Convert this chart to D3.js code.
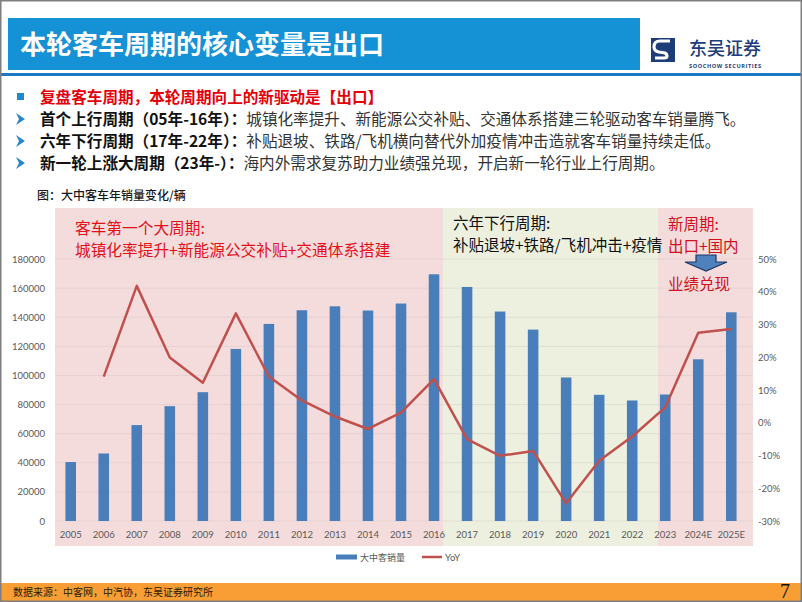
<!DOCTYPE html>
<html><head><meta charset="utf-8">
<script src="https://cdn.jsdelivr.net/npm/d3@7/dist/d3.min.js"></script>
<style>body{margin:0;background:#fff;} svg{display:block;}</style>
</head><body>
<svg id="c" width="802" height="602"></svg>
<script>
// ---------- data ----------
const years = ["2005","2006","2007","2008","2009","2010","2011","2012","2013","2014","2015","2016","2017","2018","2019","2020","2021","2022","2023","2024E","2025E"];
const sales = [40500,46400,65900,78900,88500,118200,135400,144800,147500,144600,149400,169500,160800,143900,131500,98600,86700,82800,86900,111100,143400];
const yoy = [null,14.1,41.8,19.9,12.2,33.4,14.1,6.8,1.9,-1.9,3.1,13.3,-5.0,-10.1,-8.6,-24.6,-11.6,-4.2,4.7,27.5,28.6];
const leftTicks = [0,20000,40000,60000,80000,100000,120000,140000,160000,180000];
const rightTicks = [-30,-20,-10,0,10,20,30,40,50];
const seriesNames = ["大中客销量","YoY"];

const CJK = "'Noto Sans CJK SC','Noto Sans',sans-serif";
const NUM = "Lato,'Open Sans',sans-serif";
const svg = d3.select("#c");

// ---------- slide chrome ----------
svg.append("rect").attr("x",0).attr("y",0).attr("width",802).attr("height",602).attr("fill","#fff");
svg.append("rect").attr("x",8).attr("y",18).attr("width",632).attr("height",52).attr("fill","#1591d6");
svg.append("text").attr("x",20).attr("y",54).attr("fill","#fff").attr("font-family",CJK)
  .attr("font-weight",700).attr("font-size",26).text("本轮客车周期的核心变量是出口");
svg.append("rect").attr("x",0).attr("y",73).attr("width",802).attr("height",3).attr("fill","#1c78c4");

// logo
const logo = svg.append("g");
logo.append("rect").attr("x",651).attr("y",38).attr("width",24).attr("height",24).attr("fill","#1d3c78");
logo.append("path").attr("d","M670,41 L660,41 Q654,41 654,47 Q654,51 659,52 L665,53 Q667,54 667,56 Q667,58 664,58 L655,58")
  .attr("fill","none").attr("stroke","#fff").attr("stroke-width",3.2);
logo.append("text").attr("x",689).attr("y",55).attr("fill","#1d3c78").attr("font-family",CJK)
  .attr("font-size",18).attr("font-weight",500).text("东吴证券");
logo.append("text").attr("x",689).attr("y",68).attr("fill","#1d3c78").attr("font-family","'Open Sans',sans-serif")
  .attr("font-size",5.6).attr("font-weight",700).attr("textLength",72).text("SOOCHOW SECURITIES");

// bullets
svg.append("rect").attr("x",17).attr("y",93).attr("width",7).attr("height",7).attr("fill","#1a8ad4");
svg.append("text").attr("x",40).attr("y",103).attr("fill","#e3000b").attr("font-family",CJK)
  .attr("font-size",15.6).attr("font-weight",700).text("复盘客车周期，本轮周期向上的新驱动是【出口】");
const rows = [
  ["首个上行周期（05年-16年）：","城镇化率提升、新能源公交补贴、交通体系搭建三轮驱动客车销量腾飞。",119],
  ["六年下行周期（17年-22年）：","补贴退坡、铁路/飞机横向替代外加疫情冲击造就客车销量持续走低。",141],
  ["新一轮上涨大周期（23年-）：","海内外需求复苏助力业绩强兑现，开启新一轮行业上行周期。",163]
];
rows.forEach(r=>{
  const cy=r[2];
  svg.append("path").attr("d",`M16,${cy-6} L25,${cy} L16,${cy+6} L19,${cy} Z`).attr("fill","#2a86c8");
  const t = svg.append("text").attr("x",40).attr("y",cy+5.5).attr("font-family",CJK).attr("font-size",15.6);
  t.append("tspan").attr("font-weight",700).attr("fill","#111").text(r[0]);
  t.append("tspan").attr("fill","#333").text(r[1]);
});

// chart title
svg.append("text").attr("x",37).attr("y",200).attr("fill","#1a1a1a").attr("font-family",CJK)
  .attr("font-size",12).attr("font-weight",500).text("图：大中客车年销量变化/辆");

// ---------- scales ----------
const x = d3.scaleBand().domain(years).range([54.2,747.8]).paddingInner(0.68).paddingOuter(0.34);
const yL = d3.scaleLinear().domain([0,180000]).range([521,259]);
const yR = d3.scaleLinear().domain([-30,50]).range([521,259]);
const cx = d => x(d)+x.bandwidth()/2;
const step = x.step();

// background period regions
const regions = [
  {x0:55, x1:cx("2016")+0.27*step, fill:"#f4dcdc"},
  {x0:cx("2016")+0.27*step, x1:cx("2023")-0.22*step, fill:"#edf0df"},
  {x0:cx("2023")-0.22*step, x1:753, fill:"#f4dcdc"}
];
svg.append("g").selectAll("rect").data(regions).join("rect")
  .attr("x",d=>d.x0).attr("width",d=>d.x1-d.x0).attr("y",208).attr("height",338).attr("fill",d=>d.fill);

// grid
svg.append("g").selectAll("line").data(leftTicks).join("line")
  .attr("x1",55).attr("x2",753).attr("y1",d=>yL(d)).attr("y2",d=>yL(d))
  .attr("stroke","#c8c0c0").attr("stroke-opacity",0.35).attr("stroke-width",1);

// axes
const gL = svg.append("g").attr("transform","translate(55,0)")
  .call(d3.axisLeft(yL).tickValues(leftTicks).tickSize(0).tickPadding(10).tickFormat(d3.format("d")));
const gR = svg.append("g").attr("transform","translate(753,0)")
  .call(d3.axisRight(yR).tickValues(rightTicks).tickSize(0).tickPadding(5).tickFormat(d=>d+"%"));
const gB = svg.append("g").attr("transform","translate(0,521)")
  .call(d3.axisBottom(x).tickSize(0).tickPadding(10));
[gL,gR,gB].forEach(g=>{
  g.select(".domain").remove();
  g.selectAll("text").attr("fill","#595959").attr("font-family",NUM).attr("font-size",9.5);
});

// bars
svg.append("g").selectAll("rect").data(years).join("rect")
  .attr("x",d=>x(d)).attr("width",x.bandwidth())
  .attr("y",(d,i)=>yL(sales[i])).attr("height",(d,i)=>yL(0)-yL(sales[i]))
  .attr("fill","#4a7ebb");

// yoy line
const pts = years.map((d,i)=>({d,v:yoy[i]})).filter(p=>p.v!==null);
svg.append("path").datum(pts)
  .attr("d",d3.line().x(p=>cx(p.d)).y(p=>yR(p.v)))
  .attr("fill","none").attr("stroke","#c0504d").attr("stroke-width",2.5).attr("stroke-linejoin","round");

// annotations
const red = "#e3101a";
svg.append("text").attr("x",75).attr("y",234).attr("fill",red).attr("font-family",CJK).attr("font-size",15.7).text("客车第一个大周期:");
svg.append("text").attr("x",75).attr("y",256).attr("fill",red).attr("font-family",CJK).attr("font-size",15.7).text("城镇化率提升+新能源公交补贴+交通体系搭建");
svg.append("text").attr("x",453).attr("y",229).attr("fill","#111").attr("font-family",CJK).attr("font-size",15.5).text("六年下行周期:");
svg.append("text").attr("x",453).attr("y",251).attr("fill","#111").attr("font-family",CJK).attr("font-size",15.5).text("补贴退坡+铁路/飞机冲击+疫情");
svg.append("text").attr("x",668).attr("y",230).attr("fill","#d0101c").attr("font-family",CJK).attr("font-size",15.5).text("新周期:");
svg.append("text").attr("x",668).attr("y",252).attr("fill","#d0101c").attr("font-family",CJK).attr("font-size",15.5).text("出口+国内");
svg.append("path").attr("d","M696,255 L716,255 L716,262 L727,262 L706,271 L685,262 L696,262 Z")
  .attr("fill","#4f81bd").attr("stroke","#1f3864").attr("stroke-width",1.2);
svg.append("text").attr("x",668).attr("y",290).attr("fill","#d0101c").attr("font-family",CJK).attr("font-size",15.5).text("业绩兑现");

// legend
const lg = svg.append("g").attr("font-family",CJK).attr("font-size",9).attr("fill","#595959");
lg.append("rect").attr("x",336).attr("y",554.5).attr("width",21).attr("height",5).attr("fill","#4a7ebb");
lg.append("text").attr("x",360).attr("y",560.5).text(seriesNames[0]);
lg.append("line").attr("x1",422).attr("x2",442).attr("y1",557).attr("y2",557).attr("stroke","#c0504d").attr("stroke-width",2.5);
lg.append("text").attr("x",445).attr("y",560.5).attr("font-family",NUM).attr("font-size",9.5).text(seriesNames[1]);

// footer
svg.append("rect").attr("x",0).attr("y",583).attr("width",802).attr("height",19).attr("fill","#f99d35");
svg.append("text").attr("x",13).attr("y",596).attr("fill","#2a1a0a").attr("font-family",CJK).attr("font-size",10).text("数据来源：中客网，中汽协，东吴证券研究所");
svg.append("text").attr("x",780).attr("y",598).attr("fill","#111").attr("font-family","'Liberation Serif',serif").attr("font-size",20).text("7");

// slide border
svg.append("rect").attr("x",0.75).attr("y",0.75).attr("width",800.5).attr("height",600.5)
  .attr("fill","none").attr("stroke","#7f7f7f").attr("stroke-width",1.5);
</script>
</body></html>
